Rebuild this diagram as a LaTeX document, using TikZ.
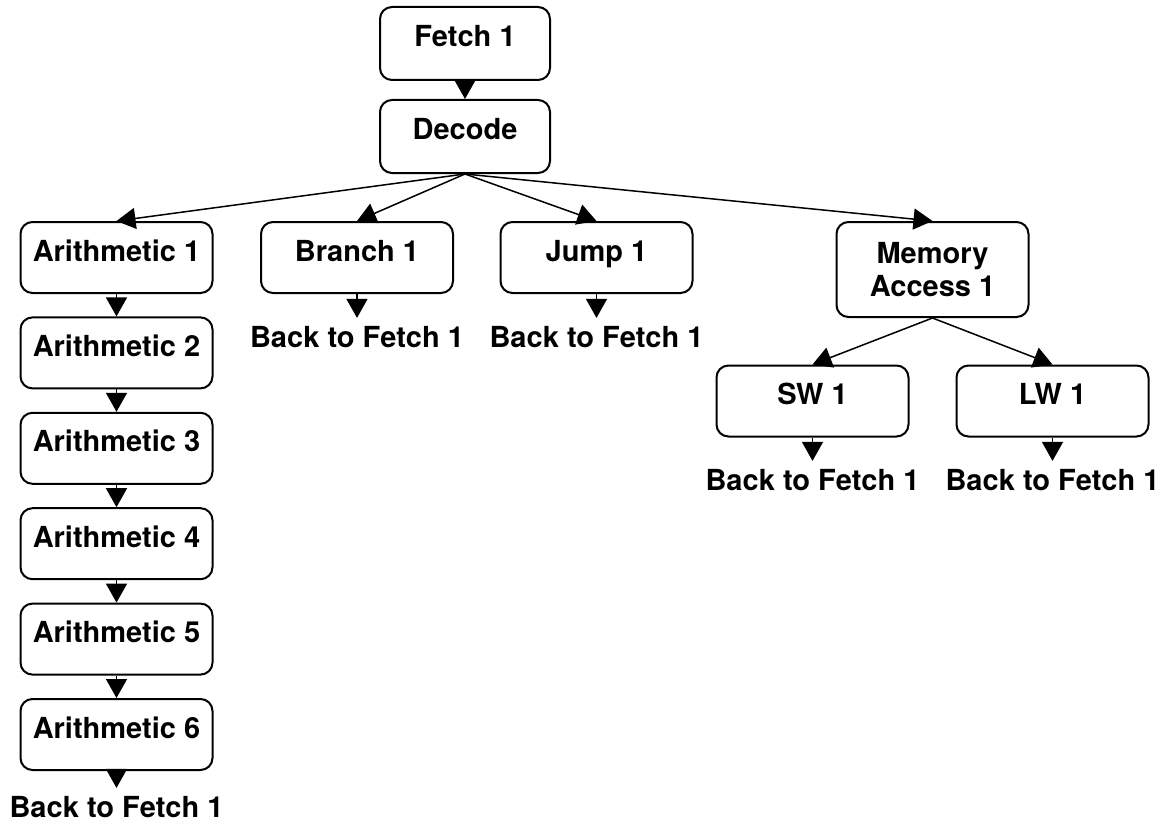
\documentclass[tikz,border=0pt]{standalone}
\usepackage{fontspec}
\setmainfont{TeX Gyre Heros}
\usetikzlibrary{arrows.meta, positioning}

\begin{document}
\begin{tikzpicture}[x=0.5pt, y=-0.5pt,
	every node/.style={font=\fontsize{14.5}{16.5}\selectfont\bfseries},
	box/.style={draw, line width=1pt, rounded corners=6pt, inner sep=0pt, minimum width=96pt, minimum height=35.5pt},
	stage/.style={box, text height=19.5pt, text depth=16pt},
	back/.style={inner sep=4pt},
	flow/.style={-{Triangle[width=10.5pt, length=9.5pt]}, line width=0.75pt}]
	\useasboundingbox (0,0) rectangle (1162,829);

	% Nodes
	\node[stage, minimum width=85pt, minimum height=36.5pt] (fetch) at (465,43.5) {Fetch 1};
	\node[stage, minimum width=85pt, minimum height=36.5pt] (decode) at (465,136.5) {Decode};
	\node[stage] (arith1) at (116.5,257.5) {Arithmetic 1};
	\foreach \i [remember=\i as \j (initially 1)] in {2,...,6}
		\node[stage, below=11.2pt of arith\j] (arith\i) {Arithmetic \i};
	\node[stage] (branch) at (357,257.5) {Branch 1};
	\node[stage] (jump) at (596.5,257.5) {Jump 1};
	\node[box, align=center, minimum height=47.5pt] (mem) at (932.5,269.5) {Memory\\Access 1};
	\node[stage] (sw) at (812.5,401) {SW 1};
	\node[stage] (lw) at (1052.5,401) {LW 1};

	% Return labels
	\node[back] (backA) at (116.5,807) {Back to Fetch 1};
	\node[back] (backB) at (357,337) {Back to Fetch 1};
	\node[back] (backJ) at (596.5,337) {Back to Fetch 1};
	\node[back] (backS) at (812.5,480) {Back to Fetch 1};
	\node[back] (backL) at (1052.5,480) {Back to Fetch 1};

	% Transitions
	\draw[flow] (fetch) -- (decode);
	\foreach \t in {arith1, branch, jump, mem}
		\draw[flow] (decode.south) -- (\t.north);
	\foreach \i [remember=\i as \j (initially 1)] in {2,...,6}
		\draw[flow] (arith\j) -- (arith\i);
	\draw[flow] (mem.south) -- (sw.north);
	\draw[flow] (mem.south) -- (lw.north);

	% Back to fetch
	\draw[flow] (arith6) -- (backA);
	\draw[flow] (branch) -- (backB);
	\draw[flow] (jump) -- (backJ);
	\draw[flow] (sw) -- (backS);
	\draw[flow] (lw) -- (backL);
\end{tikzpicture}
\end{document}
